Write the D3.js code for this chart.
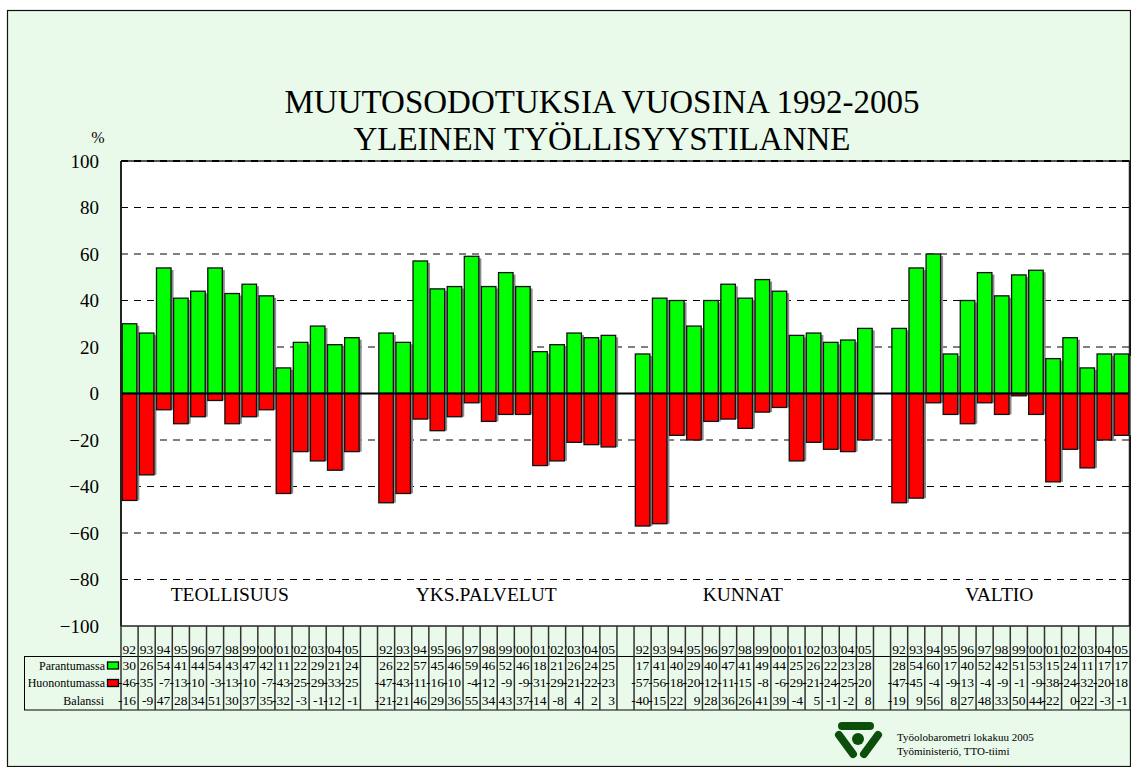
<!DOCTYPE html>
<html>
<head>
<meta charset="utf-8">
<script src="https://cdn.jsdelivr.net/npm/d3@7"></script>
<style>
  body { margin: 0; background: #fff; }
</style>
</head>
<body>
<div id="container"></div>
<script>
// data
const groups = ["TEOLLISUUS", "YKS.PALVELUT", "KUNNAT", "VALTIO"];
const years = ["92","93","94","95","96","97","98","99","'00","'01","'02","'03","'04","'05"];
const rowNames = ["Parantumassa", "Huonontumassa", "Balanssi"];
const yTicks = [100, 80, 60, 40, 20, 0, -20, -40, -60, -80, -100];

const parantumassa = [
  [30, 26, 54, 41, 44, 54, 43, 47, 42, 11, 22, 29, 21, 24],
  [26, 22, 57, 45, 46, 59, 46, 52, 46, 18, 21, 26, 24, 25],
  [17, 41, 40, 29, 40, 47, 41, 49, 44, 25, 26, 22, 23, 28],
  [28, 54, 60, 17, 40, 52, 42, 51, 53, 15, 24, 11, 17, 17]
];
const huonontumassa = [
  [-46, -35, -7, -13, -10, -3, -13, -10, -7, -43, -25, -29, -33, -25],
  [-47, -43, -11, -16, -10, -4, -12, -9, -9, -31, -29, -21, -22, -23],
  [-57, -56, -18, -20, -12, -11, -15, -8, -6, -29, -21, -24, -25, -20],
  [-47, -45, -4, -9, -13, -4, -9, -1, -9, -38, -24, -32, -20, -18]
];
const balanssi = [
  [-16, -9, 47, 28, 34, 51, 30, 37, 35, -32, -3, -1, -12, -1],
  [-21, -21, 46, 29, 36, 55, 34, 43, 37, -14, -8, 4, 2, 3],
  [-40, -15, 22, 9, 28, 36, 26, 41, 39, -4, 5, -1, -2, 8],
  [-19, 9, 56, 8, 27, 48, 33, 50, 44, -22, 0, -22, -3, -1]
];

const W = 1131, H = 767;
const bg = "#e9f9ea";
const serif = "'Liberation Serif', 'Times New Roman', serif";

// columns: 14 years per group with an empty column between groups
let cols = [];
groups.forEach(function(g, gi) {
  if (gi > 0) cols.push({key: "gap" + gi, gap: true});
  years.forEach(function(yr, yi) {
    cols.push({key: gi + "-" + yi, year: yr, g: gi,
      p: parantumassa[gi][yi], h: huonontumassa[gi][yi], b: balanssi[gi][yi]});
  });
});
let yearCols = cols.filter(function(c) { return !c.gap; });

let svg = d3.select("#container")
  .append("svg")
  .attr("width", W)
  .attr("height", H)
  .style("font-family", serif);

svg.append("rect")
  .attr("x", 7.5).attr("y", 10.5)
  .attr("width", W - 8).attr("height", H - 11)
  .attr("fill", bg).attr("stroke", "#111").attr("stroke-width", 1.2);

let pLeft = 121, pRight = 1130, pTop = 161, pBottom = 626;

let x = d3.scaleBand()
  .domain(cols.map(function(c) { return c.key; }))
  .range([pLeft, pRight])
  .paddingInner(0.15)
  .paddingOuter(0.075);

let y = d3.scaleLinear().domain([-100, 100]).range([pBottom, pTop]);

function txt(s, xx, yy, size, anchor) {
  return svg.append("text")
    .text(s)
    .attr("x", xx).attr("y", yy)
    .attr("text-anchor", anchor || "start")
    .style("font-family", serif)
    .style("font-size", size + "px");
}

// title
txt("MUUTOSODOTUKSIA VUOSINA 1992-2005", 602, 113, 33, "middle");
txt("YLEINEN TYÖLLISYYSTILANNE", 602, 150, 33, "middle");
txt("%", 98, 143, 16, "middle");

// plot area
svg.append("rect")
  .attr("x", pLeft).attr("y", pTop)
  .attr("width", pRight - pLeft).attr("height", pBottom - pTop)
  .attr("fill", "#fff");

// y axis labels
let yAxis = d3.axisLeft(y).tickValues(yTicks).tickSize(0).tickPadding(22);
let ya = svg.append("g").attr("transform", "translate(" + pLeft + ",0)").call(yAxis);
ya.attr("font-family", null).attr("font-size", null);
ya.select(".domain").remove();
ya.selectAll("text")
  .style("font-family", serif)
  .style("font-size", "19px")
  .attr("fill", "#000");

// dashed grid
svg.selectAll(".grid")
  .data(yTicks.filter(function(t) { return t !== 0 && Math.abs(t) !== 100; }))
  .enter()
  .append("line")
  .attr("class", "grid")
  .attr("x1", pLeft).attr("x2", pRight)
  .attr("y1", function(d) { return y(d); })
  .attr("y2", function(d) { return y(d); })
  .attr("stroke", "#000")
  .attr("stroke-width", 1)
  .attr("stroke-dasharray", "7,6");

// group labels
svg.selectAll(".glabel")
  .data(groups)
  .enter()
  .append("text")
  .attr("class", "glabel")
  .text(function(d) { return d; })
  .attr("x", function(d, i) {
    let a = x(i + "-0"), b = x(i + "-13") + x.bandwidth();
    return (a + b) / 2 - 11;
  })
  .attr("y", 601)
  .attr("text-anchor", "middle")
  .style("font-family", serif)
  .style("font-size", "19.5px");

function barY(v) { return v >= 0 ? y(v) : y(0); }
function barH(v) { return Math.abs(y(v) - y(0)); }

// bar shadows
let series = [{k: "p", c: "#00ff00"}, {k: "h", c: "#ff0000"}];
series.forEach(function(s) {
  svg.selectAll(".sh" + s.k)
    .data(yearCols)
    .enter()
    .append("rect")
    .attr("x", function(d) { return x(d.key) + 2.5; })
    .attr("y", function(d) { return barY(d[s.k]) + (d[s.k] >= 0 ? 2 : 0); })
    .attr("width", x.bandwidth())
    .attr("height", function(d) { return barH(d[s.k]); })
    .attr("fill", "#8c8c8c");
});
series.forEach(function(s) {
  svg.selectAll(".bar" + s.k)
    .data(yearCols)
    .enter()
    .append("rect")
    .attr("x", function(d) { return x(d.key); })
    .attr("y", function(d) { return barY(d[s.k]); })
    .attr("width", x.bandwidth())
    .attr("height", function(d) { return barH(d[s.k]); })
    .attr("fill", s.c)
    .attr("stroke", "#111")
    .attr("stroke-width", 1.3);
});

// zero line and frame
svg.append("line")
  .attr("x1", pLeft).attr("x2", pRight)
  .attr("y1", y(0)).attr("y2", y(0))
  .attr("stroke", "#000").attr("stroke-width", 2);
svg.append("line")
  .attr("x1", pLeft).attr("x2", pRight)
  .attr("y1", pTop).attr("y2", pTop)
  .attr("stroke", "#555").attr("stroke-width", 2);
svg.append("line")
  .attr("x1", pLeft).attr("x2", pRight)
  .attr("y1", pTop).attr("y2", pTop)
  .attr("stroke", "#000").attr("stroke-width", 2)
  .attr("stroke-dasharray", "7,6");
svg.append("line")
  .attr("x1", pLeft).attr("x2", pLeft)
  .attr("y1", pTop).attr("y2", pBottom)
  .attr("stroke", "#222").attr("stroke-width", 2);
svg.append("line")
  .attr("x1", pRight - 0.5).attr("x2", pRight - 0.5)
  .attr("y1", pTop).attr("y2", pBottom)
  .attr("stroke", "#222").attr("stroke-width", 1.5);

// data table
let tTop = 656.5, tBot = 710;
svg.append("rect")
  .attr("x", 24.5).attr("y", tTop)
  .attr("width", W - 24).attr("height", tBot - tTop)
  .attr("fill", "none").attr("stroke", "#000").attr("stroke-width", 1);
svg.append("line")
  .attr("x1", pLeft).attr("x2", pRight)
  .attr("y1", pBottom).attr("y2", pBottom)
  .attr("stroke", "#222").attr("stroke-width", 1.5);

let step = x.step();
let edges = d3.range(cols.length + 1).map(function(i) { return pLeft + i * step; });
svg.selectAll(".vline")
  .data(edges)
  .enter()
  .append("line")
  .attr("x1", function(d) { return d; })
  .attr("x2", function(d) { return d; })
  .attr("y1", pBottom).attr("y2", tBot)
  .attr("stroke", "#333").attr("stroke-width", 1.5);

function cellX(d) { return x(d.key) - (step - x.bandwidth()) / 2 + step - 2; }

svg.selectAll(".yr")
  .data(yearCols)
  .enter()
  .append("text")
  .text(function(d) { return d.year; })
  .attr("x", cellX)
  .attr("y", 654)
  .attr("text-anchor", "end")
  .style("font-family", serif)
  .style("font-size", "13.5px");

let rowKeys = ["p", "h", "b"];
let rowY = [670, 687, 705];
rowKeys.forEach(function(k, ri) {
  svg.selectAll(".cell" + k)
    .data(yearCols)
    .enter()
    .append("text")
    .text(function(d) { return d[k]; })
    .attr("x", cellX)
    .attr("y", rowY[ri])
    .attr("text-anchor", "end")
    .style("font-family", serif)
    .style("font-size", "13.5px");
});

svg.selectAll(".rowname")
  .data(rowNames)
  .enter()
  .append("text")
  .text(function(d) { return d; })
  .attr("x", function(d, i) { return i < 2 ? 105 : 104; })
  .attr("y", function(d, i) { return rowY[i]; })
  .attr("text-anchor", "end")
  .style("font-family", serif)
  .style("font-size", "12px");

svg.append("rect")
  .attr("x", 107.5).attr("y", 662).attr("width", 11).attr("height", 7)
  .attr("fill", "#00ff00").attr("stroke", "#000").attr("stroke-width", 1.3);
svg.append("rect")
  .attr("x", 107.5).attr("y", 679.5).attr("width", 11).attr("height", 7)
  .attr("fill", "#ff0000").attr("stroke", "#000").attr("stroke-width", 1.3);

// logo
let logo = svg.append("g").attr("fill", "#0b4f0b").attr("stroke", "#0b4f0b");
logo.append("line")
  .attr("x1", 842).attr("y1", 726).attr("x2", 870).attr("y2", 726)
  .attr("stroke-width", 8).attr("stroke-linecap", "round");
logo.append("line")
  .attr("x1", 839).attr("y1", 735).attr("x2", 853).attr("y2", 754)
  .attr("stroke-width", 8).attr("stroke-linecap", "round");
logo.append("line")
  .attr("x1", 878).attr("y1", 735).attr("x2", 864).attr("y2", 754)
  .attr("stroke-width", 8).attr("stroke-linecap", "round");
logo.append("circle")
  .attr("cx", 858).attr("cy", 739).attr("r", 6).attr("stroke", "none");

txt("Työolobarometri lokakuu 2005", 897, 741, 11);
txt("Työministeriö, TTO-tiimi", 897, 755, 11);
</script>
</body>
</html>
